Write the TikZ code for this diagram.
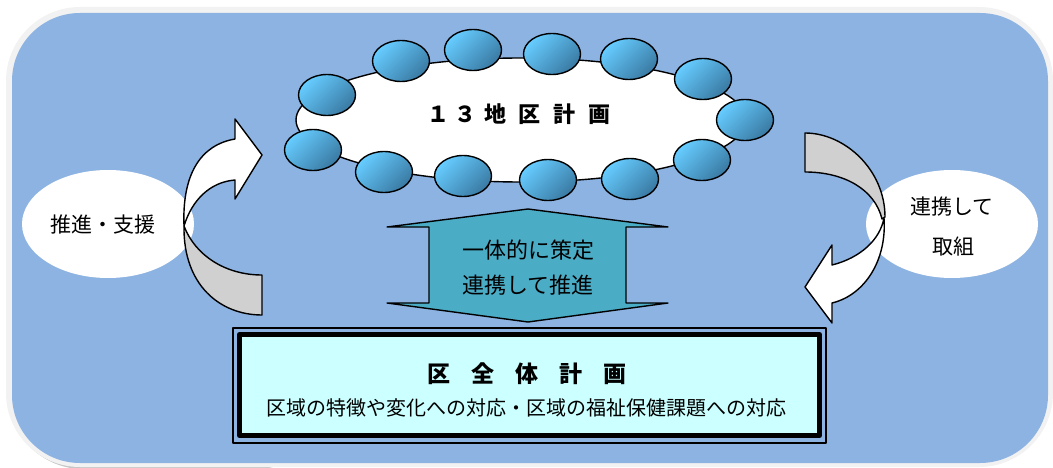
\documentclass[tikz,border=0pt]{standalone}
\usepackage{fontspec}
\newfontfamily\jp{Noto Sans CJK JP}
\definecolor{bgblue}{HTML}{8DB3E2}
\definecolor{framegray}{HTML}{F2F2F2}
\definecolor{midteal}{HTML}{4BACC6}
\definecolor{boxcyan}{HTML}{CCFFFF}
\definecolor{arrgray}{HTML}{D0D0D0}
\definecolor{circL}{HTML}{66CCFF}
\definecolor{circD}{HTML}{3A7AA3}
\newcommand{\gapC}{\hspace{21pt}}
\begin{document}
\begin{tikzpicture}[x=1pt,y=-1pt,line join=round,
  outl/.style={draw=black,line width=1.4pt},
  bub/.style={outl,top color=circL,bottom color=circD,shading angle=45},
  txt/.style={inner sep=0pt,font=\jp\fontsize{21}{25}\selectfont}]
\useasboundingbox (0,0) rectangle (1053,468);
% background frame
\fill[gray!45,rounded corners=74pt] (9,12) rectangle (330,469);
\fill[framegray,rounded corners=74pt] (6,7) rectangle (1053,467);
\fill[bgblue,rounded corners=68pt] (12,13) rectangle (1048,463);
% side ellipses
\fill[white] (108,224) ellipse [x radius=86pt,y radius=54pt];
\fill[white] (952,224) ellipse [x radius=86pt,y radius=54pt];
\node[txt] (l1) at (103,225) {推進・支援};
\node[txt] (r1) at (952,207) {連携して};
\node[txt] (r2) at (953,247) {取組};
% big ellipse with 13 bubbles
\draw[outl,fill=white] (521,120) ellipse [x radius=225pt,y radius=62pt];
\foreach \p in {(327,95),(401,61),(473,50),(552,54),(629,59),(703,79),(745,120),(702,160),(630,179),(548,180),(463,176),(384,172),(313,150)}
  \draw[bub] \p ellipse [x radius=28.5pt,y radius=20.5pt];
\node[inner sep=0pt,font=\jp\bfseries\fontsize{22}{26}\selectfont] (t13) at (519,114) {１\hspace{5pt}３\hspace{8pt}地\hspace{12pt}区\hspace{13pt}計\hspace{13pt}画};
% middle double arrow
\draw[outl,fill=midteal] (528,209) -- (668,227) -- (626,227) -- (626,303) -- (668,303) -- (528,322) -- (387,303) -- (429,303) -- (429,227) -- (387,227) -- cycle;
\node[txt,font=\jp\fontsize{22}{26}\selectfont] (m1) at (528,250) {一体的に策定};
\node[txt,font=\jp\fontsize{22}{26}\selectfont] (m2) at (528,285) {連携して推進};
% left curved arrow
\draw[outl,fill=arrgray] (262,315) .. controls (220,315) and (183,285) .. (184,226) .. controls (195,255) and (225,275) .. (262,275) -- cycle;
\draw[outl,fill=white] (184,226) .. controls (182,175) and (200,145) .. (235,139) -- (235,119) -- (262,155) -- (235,199) -- (235,180) .. controls (210,182) and (192,200) .. (184,226) -- cycle;
% right curved arrow
\draw[outl,fill=arrgray] (805,133) .. controls (845,133) and (885,170) .. (885,217) -- (882,219) .. controls (875,190) and (845,172) .. (805,172) -- cycle;
\draw[outl,fill=white] (884,218) .. controls (887,260) and (865,295) .. (832,303) -- (832,323) -- (805,287) -- (832,245) -- (832,265) .. controls (860,258) and (880,240) .. (884,218) -- cycle;
% bottom box
\draw[line width=1.2pt] (233,328) rectangle (826,443);
\draw[line width=5pt,fill=boxcyan] (239.5,334.5) rectangle (819.5,435.5);
\node[inner sep=0pt,font=\jp\bfseries\fontsize{23}{27}\selectfont] (b1) at (527,374) {区\gapC 全\gapC 体\gapC 計\gapC 画};
\node[txt,font=\jp\fontsize{20}{24}\selectfont] (b2) at (526,408) {区域の特徴や変化への対応・区域の福祉保健課題への対応};
\end{tikzpicture}
\end{document}
